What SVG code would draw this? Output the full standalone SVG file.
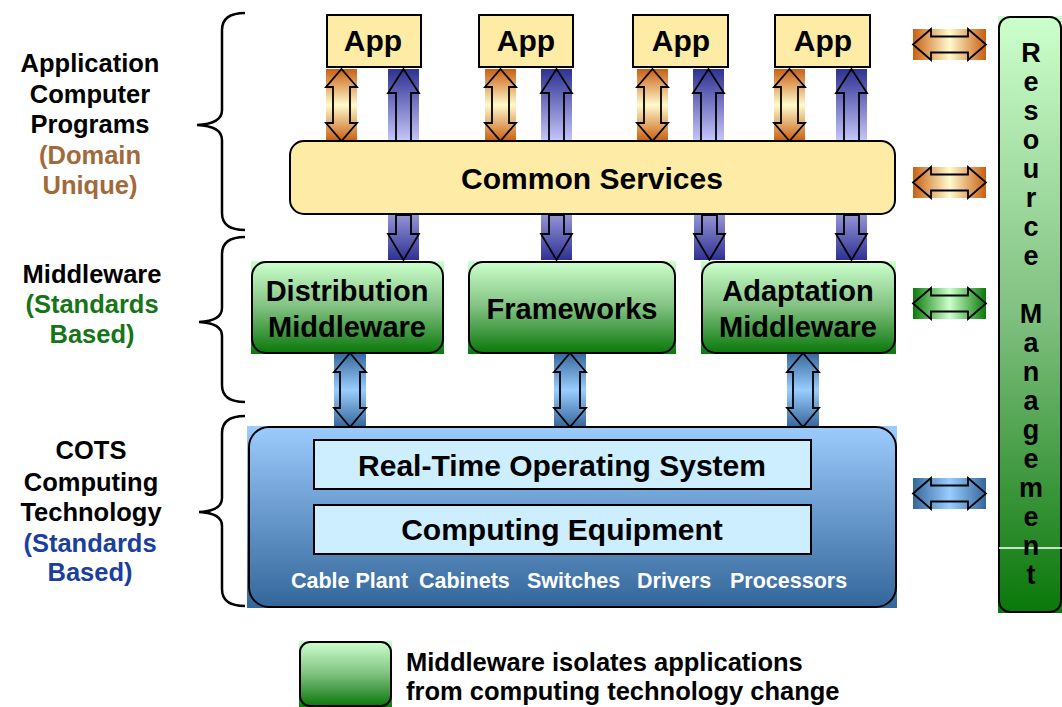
<svg xmlns="http://www.w3.org/2000/svg" width="1062" height="707" viewBox="0 0 1062 707">
<defs>
<style>
.t{font-family:"Liberation Sans",Arial,sans-serif;font-weight:bold;fill:#000;text-anchor:middle}
.lbl{font-size:25.5px}
.box{stroke:#000;stroke-width:2}
.arr{stroke:#000;stroke-width:1.8;stroke-linejoin:miter}
.brace{fill:none;stroke:#000;stroke-width:2.5}
.w{font-family:"Liberation Sans",Arial,sans-serif;font-weight:bold;fill:#fff;font-size:21.5px}
</style>
<linearGradient id="gOrV" x1="0" y1="0" x2="0" y2="1"><stop offset="0" stop-color="#c95f12"/><stop offset="0.5" stop-color="#fffacc"/><stop offset="1" stop-color="#c95f12"/></linearGradient>
<linearGradient id="gOrH" x1="0" y1="0" x2="1" y2="0"><stop offset="0" stop-color="#c95f12"/><stop offset="0.5" stop-color="#fffacc"/><stop offset="1" stop-color="#c95f12"/></linearGradient>
<linearGradient id="gUp" x1="0" y1="0" x2="0" y2="1"><stop offset="0" stop-color="#2e3192"/><stop offset="1" stop-color="#c6c6fa"/></linearGradient>
<linearGradient id="gDown" x1="0" y1="0" x2="0" y2="1"><stop offset="0" stop-color="#9494d6"/><stop offset="1" stop-color="#2e3192"/></linearGradient>
<linearGradient id="gStV" x1="0" y1="0" x2="0" y2="1"><stop offset="0" stop-color="#36679c"/><stop offset="0.5" stop-color="#99ccff"/><stop offset="1" stop-color="#36679c"/></linearGradient>
<linearGradient id="gStH" x1="0" y1="0" x2="1" y2="0"><stop offset="0" stop-color="#36679c"/><stop offset="0.5" stop-color="#99ccff"/><stop offset="1" stop-color="#36679c"/></linearGradient>
<linearGradient id="gGrH" x1="0" y1="0" x2="1" y2="0"><stop offset="0" stop-color="#0a7a0a"/><stop offset="0.5" stop-color="#ccffcc"/><stop offset="1" stop-color="#0a7a0a"/></linearGradient>
<linearGradient id="gGreen" x1="0" y1="0" x2="0" y2="1"><stop offset="0" stop-color="#ccffcc"/><stop offset="0.5" stop-color="#80c080"/><stop offset="1" stop-color="#0a780a"/></linearGradient>
<linearGradient id="gCots" x1="0" y1="0" x2="0" y2="1"><stop offset="0" stop-color="#9ccbfd"/><stop offset="1" stop-color="#33669a"/></linearGradient>
<path id="dblV" d="M15.5,0 L31,18 L24,18 L24,54 L31,54 L15.5,72 L0,54 L7,54 L7,18 L0,18 Z"/>
<path id="upA" d="M15.5,0 L31,24 L23,24 L23,72 L8,72 L8,24 L0,24 Z"/>
<path id="downA" d="M8,0 L23,0 L23,19 L31,19 L15.5,45 L0,19 L8,19 Z"/>
<path id="dblV2" d="M16,0 L32,19 L26,19 L26,55 L32,55 L16,74 L0,55 L6,55 L6,19 L0,19 Z"/>
<path id="dblH" d="M0,15.5 L18,0 L18,7.5 L55,7.5 L55,0 L73,15.5 L55,31 L55,23.5 L18,23.5 L18,31 Z"/>
</defs>
<rect width="1062" height="707" fill="#fff"/>

<g id="labels">
<g id="label-app">
<text class="t lbl" x="90" y="72">Application</text>
<text class="t lbl" x="90" y="103">Computer</text>
<text class="t lbl" x="90" y="133">Programs</text>
<text class="t lbl" x="90" y="164" style="fill:#a26a3a">(Domain</text>
<text class="t lbl" x="90" y="194" style="fill:#a26a3a">Unique)</text>
</g>
<g id="label-mw">
<text class="t lbl" x="92" y="283">Middleware</text>
<text class="t lbl" x="92" y="313" style="fill:#167516">(Standards</text>
<text class="t lbl" x="92" y="343" style="fill:#167516">Based)</text>
</g>
<g id="label-cots">
<text class="t lbl" x="91" y="459">COTS</text>
<text class="t lbl" x="91" y="491">Computing</text>
<text class="t lbl" x="91" y="521">Technology</text>
<text class="t lbl" x="90" y="552" style="fill:#1a3f9e">(Standards</text>
<text class="t lbl" x="90" y="581" style="fill:#1a3f9e">Based)</text>
</g>
</g>

<g id="braces">
<path class="brace" d="M245,13 Q222,13 222,30 L222,110 Q222,124 197,125 Q222,126 222,140 L222,213 Q222,230 245,230"/>
<path class="brace" d="M245,237 Q222,237 222,254 L222,308 Q222,321 199,322 Q222,323 222,336 L222,385 Q222,402 245,402"/>
<path class="brace" d="M245,416 Q222,416 222,433 L222,498 Q222,511 199,512 Q222,513 222,526 L222,589 Q222,606 245,606"/>
</g>

<g id="connectors">
<g transform="translate(326,69)"><rect width="31" height="72" fill="url(#gOrV)"/><use href="#dblV" class="arr" fill="url(#gOrV)"/></g>
<g transform="translate(485,69)"><rect width="31" height="72" fill="url(#gOrV)"/><use href="#dblV" class="arr" fill="url(#gOrV)"/></g>
<g transform="translate(637,69)"><rect width="31" height="72" fill="url(#gOrV)"/><use href="#dblV" class="arr" fill="url(#gOrV)"/></g>
<g transform="translate(774,69)"><rect width="31" height="72" fill="url(#gOrV)"/><use href="#dblV" class="arr" fill="url(#gOrV)"/></g>

<g transform="translate(388,69)"><rect width="31" height="72" fill="url(#gUp)"/><use href="#upA" class="arr" fill="url(#gUp)"/></g>
<g transform="translate(541,69)"><rect width="31" height="72" fill="url(#gUp)"/><use href="#upA" class="arr" fill="url(#gUp)"/></g>
<g transform="translate(693,69)"><rect width="31" height="72" fill="url(#gUp)"/><use href="#upA" class="arr" fill="url(#gUp)"/></g>
<g transform="translate(836,69)"><rect width="31" height="72" fill="url(#gUp)"/><use href="#upA" class="arr" fill="url(#gUp)"/></g>

<g transform="translate(388,215)"><rect width="31" height="45" fill="url(#gDown)"/><use href="#downA" class="arr" fill="url(#gDown)"/></g>
<g transform="translate(541,215)"><rect width="31" height="45" fill="url(#gDown)"/><use href="#downA" class="arr" fill="url(#gDown)"/></g>
<g transform="translate(694,215)"><rect width="31" height="45" fill="url(#gDown)"/><use href="#downA" class="arr" fill="url(#gDown)"/></g>
<g transform="translate(836,215)"><rect width="31" height="45" fill="url(#gDown)"/><use href="#downA" class="arr" fill="url(#gDown)"/></g>

<g transform="translate(334,353)"><rect width="32" height="74" fill="url(#gStV)"/><use href="#dblV2" class="arr" fill="url(#gStV)"/></g>
<g transform="translate(554,353)"><rect width="32" height="74" fill="url(#gStV)"/><use href="#dblV2" class="arr" fill="url(#gStV)"/></g>
<g transform="translate(787,353)"><rect width="32" height="74" fill="url(#gStV)"/><use href="#dblV2" class="arr" fill="url(#gStV)"/></g>

<g transform="translate(913,29)"><rect width="73" height="31" fill="url(#gOrH)"/><use href="#dblH" class="arr" fill="url(#gOrH)"/></g>
<g transform="translate(913,167)"><rect width="73" height="31" fill="url(#gOrH)"/><use href="#dblH" class="arr" fill="url(#gOrH)"/></g>
<g transform="translate(913,288)"><rect width="73" height="31" fill="url(#gGrH)"/><use href="#dblH" class="arr" fill="url(#gGrH)"/></g>
<g transform="translate(913,478)"><rect width="73" height="31" fill="url(#gStH)"/><use href="#dblH" class="arr" fill="url(#gStH)"/></g>
</g>

<g id="app1"><rect class="box" x="327" y="15" width="94" height="52" fill="#fdeba6"/><text class="t" x="373" y="51" font-size="30">App</text></g>
<g id="app2"><rect class="box" x="479" y="15" width="94" height="52" fill="#fdeba6"/><text class="t" x="526" y="51" font-size="30">App</text></g>
<g id="app3"><rect class="box" x="633" y="15" width="95" height="52" fill="#fdeba6"/><text class="t" x="681" y="51" font-size="30">App</text></g>
<g id="app4"><rect class="box" x="775" y="15" width="95" height="52" fill="#fdeba6"/><text class="t" x="823" y="51" font-size="30">App</text></g>

<g id="common-services"><rect class="box" x="290" y="141" width="605" height="73" rx="14" fill="#fdeba6"/><text class="t" x="592" y="189" font-size="30">Common Services</text></g>

<g id="distribution-middleware">
<rect x="251" y="261" width="193" height="93" fill="url(#gGreen)"/>
<rect class="box" x="252" y="262" width="191" height="91" rx="14" fill="url(#gGreen)"/>
<text class="t" x="347" y="301" font-size="29">Distribution</text>
<text class="t" x="347" y="337" font-size="29">Middleware</text>
</g>
<g id="frameworks">
<rect x="468" y="261" width="208" height="93" fill="url(#gGreen)"/>
<rect class="box" x="469" y="262" width="206" height="91" rx="14" fill="url(#gGreen)"/>
<text class="t" x="572" y="319" font-size="29">Frameworks</text>
</g>
<g id="adaptation-middleware">
<rect x="701" y="261" width="195" height="93" fill="url(#gGreen)"/>
<rect class="box" x="702" y="262" width="193" height="91" rx="14" fill="url(#gGreen)"/>
<text class="t" x="798" y="301" font-size="29">Adaptation</text>
<text class="t" x="798" y="337" font-size="29">Middleware</text>
</g>

<g id="cots">
<rect x="247" y="426" width="650" height="182" fill="url(#gCots)"/>
<rect class="box" x="249" y="427" width="647" height="180" rx="20" fill="url(#gCots)"/>
<g id="rtos"><rect class="box" x="314" y="440" width="497" height="49" fill="#cceeff"/><text class="t" x="562" y="476" font-size="30">Real-Time Operating System</text></g>
<g id="computing-equipment"><rect class="box" x="314" y="505" width="497" height="49" fill="#cceeff"/><text class="t" x="562" y="540" font-size="30">Computing Equipment</text></g>
<text class="w" x="291" y="588">Cable Plant</text>
<text class="w" x="419" y="588">Cabinets</text>
<text class="w" x="527" y="588">Switches</text>
<text class="w" x="637" y="588">Drivers</text>
<text class="w" x="730" y="588">Processors</text>
</g>

<g id="resource-management">
<rect x="998" y="16" width="64" height="597" fill="url(#gGreen)"/>
<rect class="box" x="999" y="17" width="62" height="595" rx="11" fill="url(#gGreen)"/>
<line x1="999" y1="548" x2="1062" y2="548" stroke="#fff" stroke-width="1.5"/>
<g class="t" font-size="27">
<text x="1031" y="62">R</text>
<text x="1031" y="91">e</text>
<text x="1031" y="120">s</text>
<text x="1031" y="149">o</text>
<text x="1031" y="178">u</text>
<text x="1031" y="207">r</text>
<text x="1031" y="236">c</text>
<text x="1031" y="265">e</text>
<text x="1031" y="323">M</text>
<text x="1031" y="352">a</text>
<text x="1031" y="381">n</text>
<text x="1031" y="410">a</text>
<text x="1031" y="439">g</text>
<text x="1031" y="468">e</text>
<text x="1031" y="497">m</text>
<text x="1031" y="526">e</text>
<text x="1031" y="555">n</text>
<text x="1031" y="584">t</text>
</g>
</g>

<g id="legend">
<rect x="299" y="641" width="93" height="67" fill="url(#gGreen)"/>
<rect class="box" x="300" y="642" width="91" height="64" rx="10" fill="url(#gGreen)"/>
<text class="t" x="406" y="671" font-size="25.5" style="text-anchor:start">Middleware isolates applications</text>
<text class="t" x="406" y="700" font-size="25.5" style="text-anchor:start">from computing technology change</text>
</g>
</svg>
